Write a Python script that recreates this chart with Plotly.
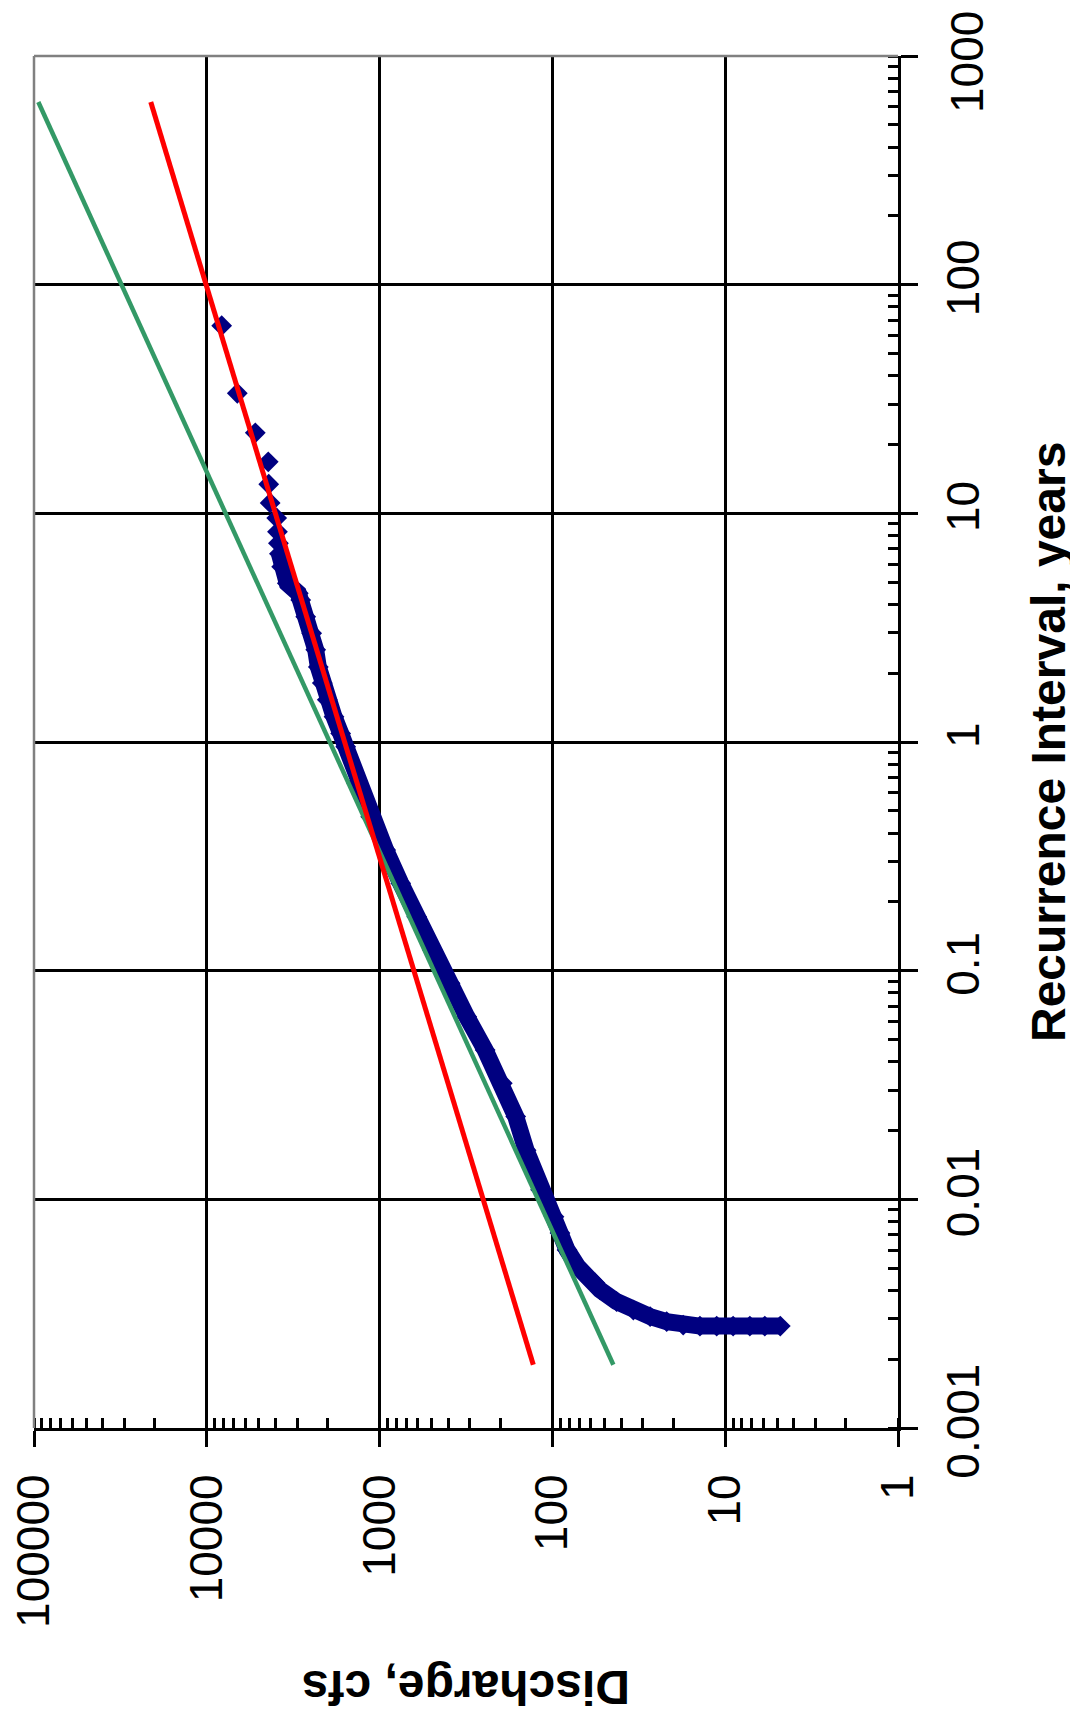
import plotly.graph_objects as go

# Ranked daily-flow data: recurrence interval (years) and discharge (cfs)
recurrence_years = [66.2, 33.5, 22.5, 16.8, 13.4, 11.1, 9.54, 8.3, 7.4, 6.65,
                    5.84, 4.94, 4.47, 4.18, 3.53, 2.99, 2.53, 2.13, 1.81, 1.53,
                    1.29, 1.09, 0.954, 0.660, 0.471, 0.337, 0.241, 0.172, 0.123, 0.0881,
                    0.0629, 0.0450, 0.0322, 0.0230, 0.0164, 0.0110, 0.00840, 0.00713, 0.00601, 0.00506,
                    0.00459, 0.00431, 0.00402, 0.00357, 0.00328, 0.00307, 0.00292, 0.00282,
                    0.00279, 0.00279, 0.00279, 0.00279, 0.00279, 0.00279]
discharge_cfs = [8200, 6660, 5240, 4410, 4380, 4300, 3940, 3900, 3850, 3800,
                 3687, 3421, 2954, 2861, 2677, 2472, 2343, 2263, 2146, 2008,
                 1836, 1680, 1571, 1357, 1126, 922, 755, 610, 495, 391,
                 313, 245, 195, 163, 142, 117, 97.9, 90.4, 82.3, 71.1,
                 63.3, 56.7, 53.0, 42.5, 34.0, 27.2, 21.8, 17.5,
                 14.0, 11.2, 9.0, 7.2, 5.9, 4.8]

# Fitted lines (end points)
red_fit_years = [629, 0.00189]
red_fit_cfs = [21100, 129]
green_fit_years = [629, 0.00189]
green_fit_cfs = [94400, 44.4]

# Axis ticks
discharge_ticks = [1, 10, 100, 1000, 10000, 100000]
discharge_ticktext = ["1", "10", "100", "1000", "10000", "100000"]
recurrence_ticks = [0.001, 0.01, 0.1, 1, 10, 100, 1000]
recurrence_ticktext = ["0.001", "0.01", "0.1", "1", "10", "100", "1000"]

NAVY = "#000080"
RED = "#FF0000"
GREEN = "#339966"
TICKFONT = dict(family="Liberation Sans, Arial", size=46, color="black")
TITLEFONT = dict(family="Liberation Sans, Arial", size=48, color="black")

fig = go.Figure()

# band of densely packed daily points
fig.add_trace(go.Scatter(
    x=discharge_cfs[9:], y=recurrence_years[9:], mode="lines",
    line=dict(color=NAVY, width=17), hoverinfo="skip", showlegend=False))
fig.add_trace(go.Scatter(
    x=discharge_cfs, y=recurrence_years, mode="markers",
    marker=dict(symbol="diamond", size=16, color=NAVY, line=dict(width=0)),
    showlegend=False))
fig.add_trace(go.Scatter(
    x=green_fit_cfs, y=green_fit_years, mode="lines",
    line=dict(color=GREEN, width=4.5), showlegend=False))
fig.add_trace(go.Scatter(
    x=red_fit_cfs, y=red_fit_years, mode="lines",
    line=dict(color=RED, width=5), showlegend=False))

minor_common = dict(ticks="inside", ticklen=10, tickwidth=2.5, tickcolor="black",
                    dtick="D1", showgrid=False)

fig.update_xaxes(
    type="log", range=[5, 0], side="bottom",
    tickmode="array", tickvals=discharge_ticks, ticktext=discharge_ticktext,
    tickangle=-90, tickfont=TICKFONT, ticklabeloverflow="allow",
    ticks="outside", ticklen=16, tickwidth=2.5, tickcolor="black",
    ticklabelstandoff=9,
    showgrid=True, gridcolor="black", gridwidth=2.5,
    showline=True, linecolor="black", linewidth=3,
    zeroline=False, minor=minor_common)

# the top label (last one) is drawn as an annotation so it is not pushed off the page
y_ticktext_axis = recurrence_ticktext[:-1] + [""]
fig.update_yaxes(
    type="log", range=[-3, 3], side="right",
    tickmode="array", tickvals=recurrence_ticks, ticktext=y_ticktext_axis,
    tickangle=-90, tickfont=TICKFONT, ticklabeloverflow="allow",
    ticks="outside", ticklen=17, tickwidth=2.5, tickcolor="black",
    ticklabelstandoff=6,
    showgrid=True, gridcolor="black", gridwidth=2.5,
    showline=True, linecolor="black", linewidth=3,
    zeroline=False, minor=minor_common)

# gray frame on the top and left
fig.add_shape(type="line", xref="paper", yref="paper", x0=0, x1=1, y0=1, y1=1,
              line=dict(color="#808080", width=2.5), layer="above")
fig.add_shape(type="line", xref="paper", yref="paper", x0=0, x1=0, y0=0, y1=1,
              line=dict(color="#808080", width=2.5), layer="above")

PAGE_OFF = 8  # default body margin of the html page
W, H = 1078 - PAGE_OFF, 1724 - PAGE_OFF
L, R, T, B = 34 - PAGE_OFF, 180, 56 - PAGE_OFF, 296
PX0, PX1, PY0, PY1 = 34, 898, 56, 1428  # plot area in page pixels

fig.add_annotation(
    text=recurrence_ticktext[-1], textangle=-90,
    xref="paper", yref="y", x=(967 - PX0) / (PX1 - PX0), y=3, yshift=-6,
    xanchor="center", yanchor="middle", showarrow=False, font=TICKFONT,
    borderpad=0)

fig.add_annotation(
    text="<b>Recurrence Interval, years</b>", textangle=-90,
    xref="paper", yref="paper", x=(1048 - PX0) / (PX1 - PX0), y=0.5,
    xanchor="center", yanchor="middle", showarrow=False, font=TITLEFONT)
fig.add_annotation(
    text="<b>Discharge, cfs</b>", textangle=180,
    xref="paper", yref="paper", x=0.5, y=(PY1 - 1688) / (PY1 - PY0),
    xanchor="center", yanchor="middle", showarrow=False, font=TITLEFONT)

fig.update_layout(
    width=W, height=H,
    margin=dict(l=L, r=R, t=T, b=B, autoexpand=False),
    paper_bgcolor="white", plot_bgcolor="white",
    showlegend=False)

fig.write_html("out.html")
